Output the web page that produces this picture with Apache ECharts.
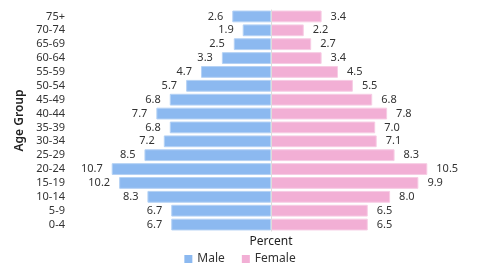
<!DOCTYPE html>
<html><head><meta charset="utf-8">
<script src="https://cdn.jsdelivr.net/npm/echarts@6/dist/echarts.min.js"></script>
<style>html,body{margin:0;padding:0;background:#fff}#c{width:480px;height:277px}</style>
</head><body><div id="c"></div>
<script>
var ageGroups = ["0-4","5-9","10-14","15-19","20-24","25-29","30-34","35-39","40-44","45-49","50-54","55-59","60-64","65-69","70-74","75+"];
var maleValues = [6.7,6.7,8.3,10.2,10.7,8.5,7.2,6.8,7.7,6.8,5.7,4.7,3.3,2.5,1.9,2.6];
var femaleValues = [6.5,6.5,8.0,9.9,10.5,8.3,7.1,7.0,7.8,6.8,5.5,4.5,3.4,2.7,2.2,3.4];
</script>
<script>
var font = "Noto Sans";
var chart = echarts.init(document.getElementById('c'), null, {renderer:'canvas'});
var labelStyle = {show:true, fontSize:11, color:'#333', fontFamily:font, distance:9,
  formatter:function(p){return Math.abs(p.value).toFixed(1);}};
chart.setOption({
  animation:false,
  textStyle:{fontFamily:font},
  grid:{left:73, right:11, top:9.5, bottom:45.5},
  legend:{bottom:7, left:'center', icon:'rect', itemWidth:8, itemHeight:8, itemGap:17,
    itemStyle:{borderWidth:0},
    textStyle:{fontSize:12, color:'#333', fontFamily:font}, data:['Male','Female']},
  xAxis:{type:'value', min:-13.3, max:13.3, name:'Percent', nameLocation:'middle', nameGap:4,
    nameTextStyle:{fontSize:12, color:'#222', fontFamily:font},
    axisLine:{show:false}, axisTick:{show:false}, axisLabel:{show:false}, splitLine:{show:false}},
  yAxis:{type:'category', data:ageGroups, name:'Age Group', nameLocation:'middle', nameRotate:90, nameGap:43,
    nameTextStyle:{fontSize:12, fontWeight:600, color:'#222', fontFamily:font},
    axisLine:{show:false}, axisTick:{show:false},
    axisLabel:{fontSize:11, color:'#333', margin:8, interval:0, fontFamily:font}},
  series:[
    {name:'Male', type:'bar', data:maleValues.map(function(v){return -v;}), barGap:'-100%', barCategoryGap:'15%',
      itemStyle:{color:'#8cb9f0', borderColor:'#b5d2f5', borderWidth:1},
      label:Object.assign({position:'left'}, labelStyle),
      markLine:{silent:true, symbol:'none', label:{show:false}, lineStyle:{color:'#dcdcdc', type:'solid', width:1}, data:[{xAxis:0}]}},
    {name:'Female', type:'bar', data:femaleValues,
      itemStyle:{color:'#f2afd5', borderColor:'#f7cce4', borderWidth:1},
      label:Object.assign({position:'right'}, labelStyle)}
  ]
});
</script>
</body></html>
